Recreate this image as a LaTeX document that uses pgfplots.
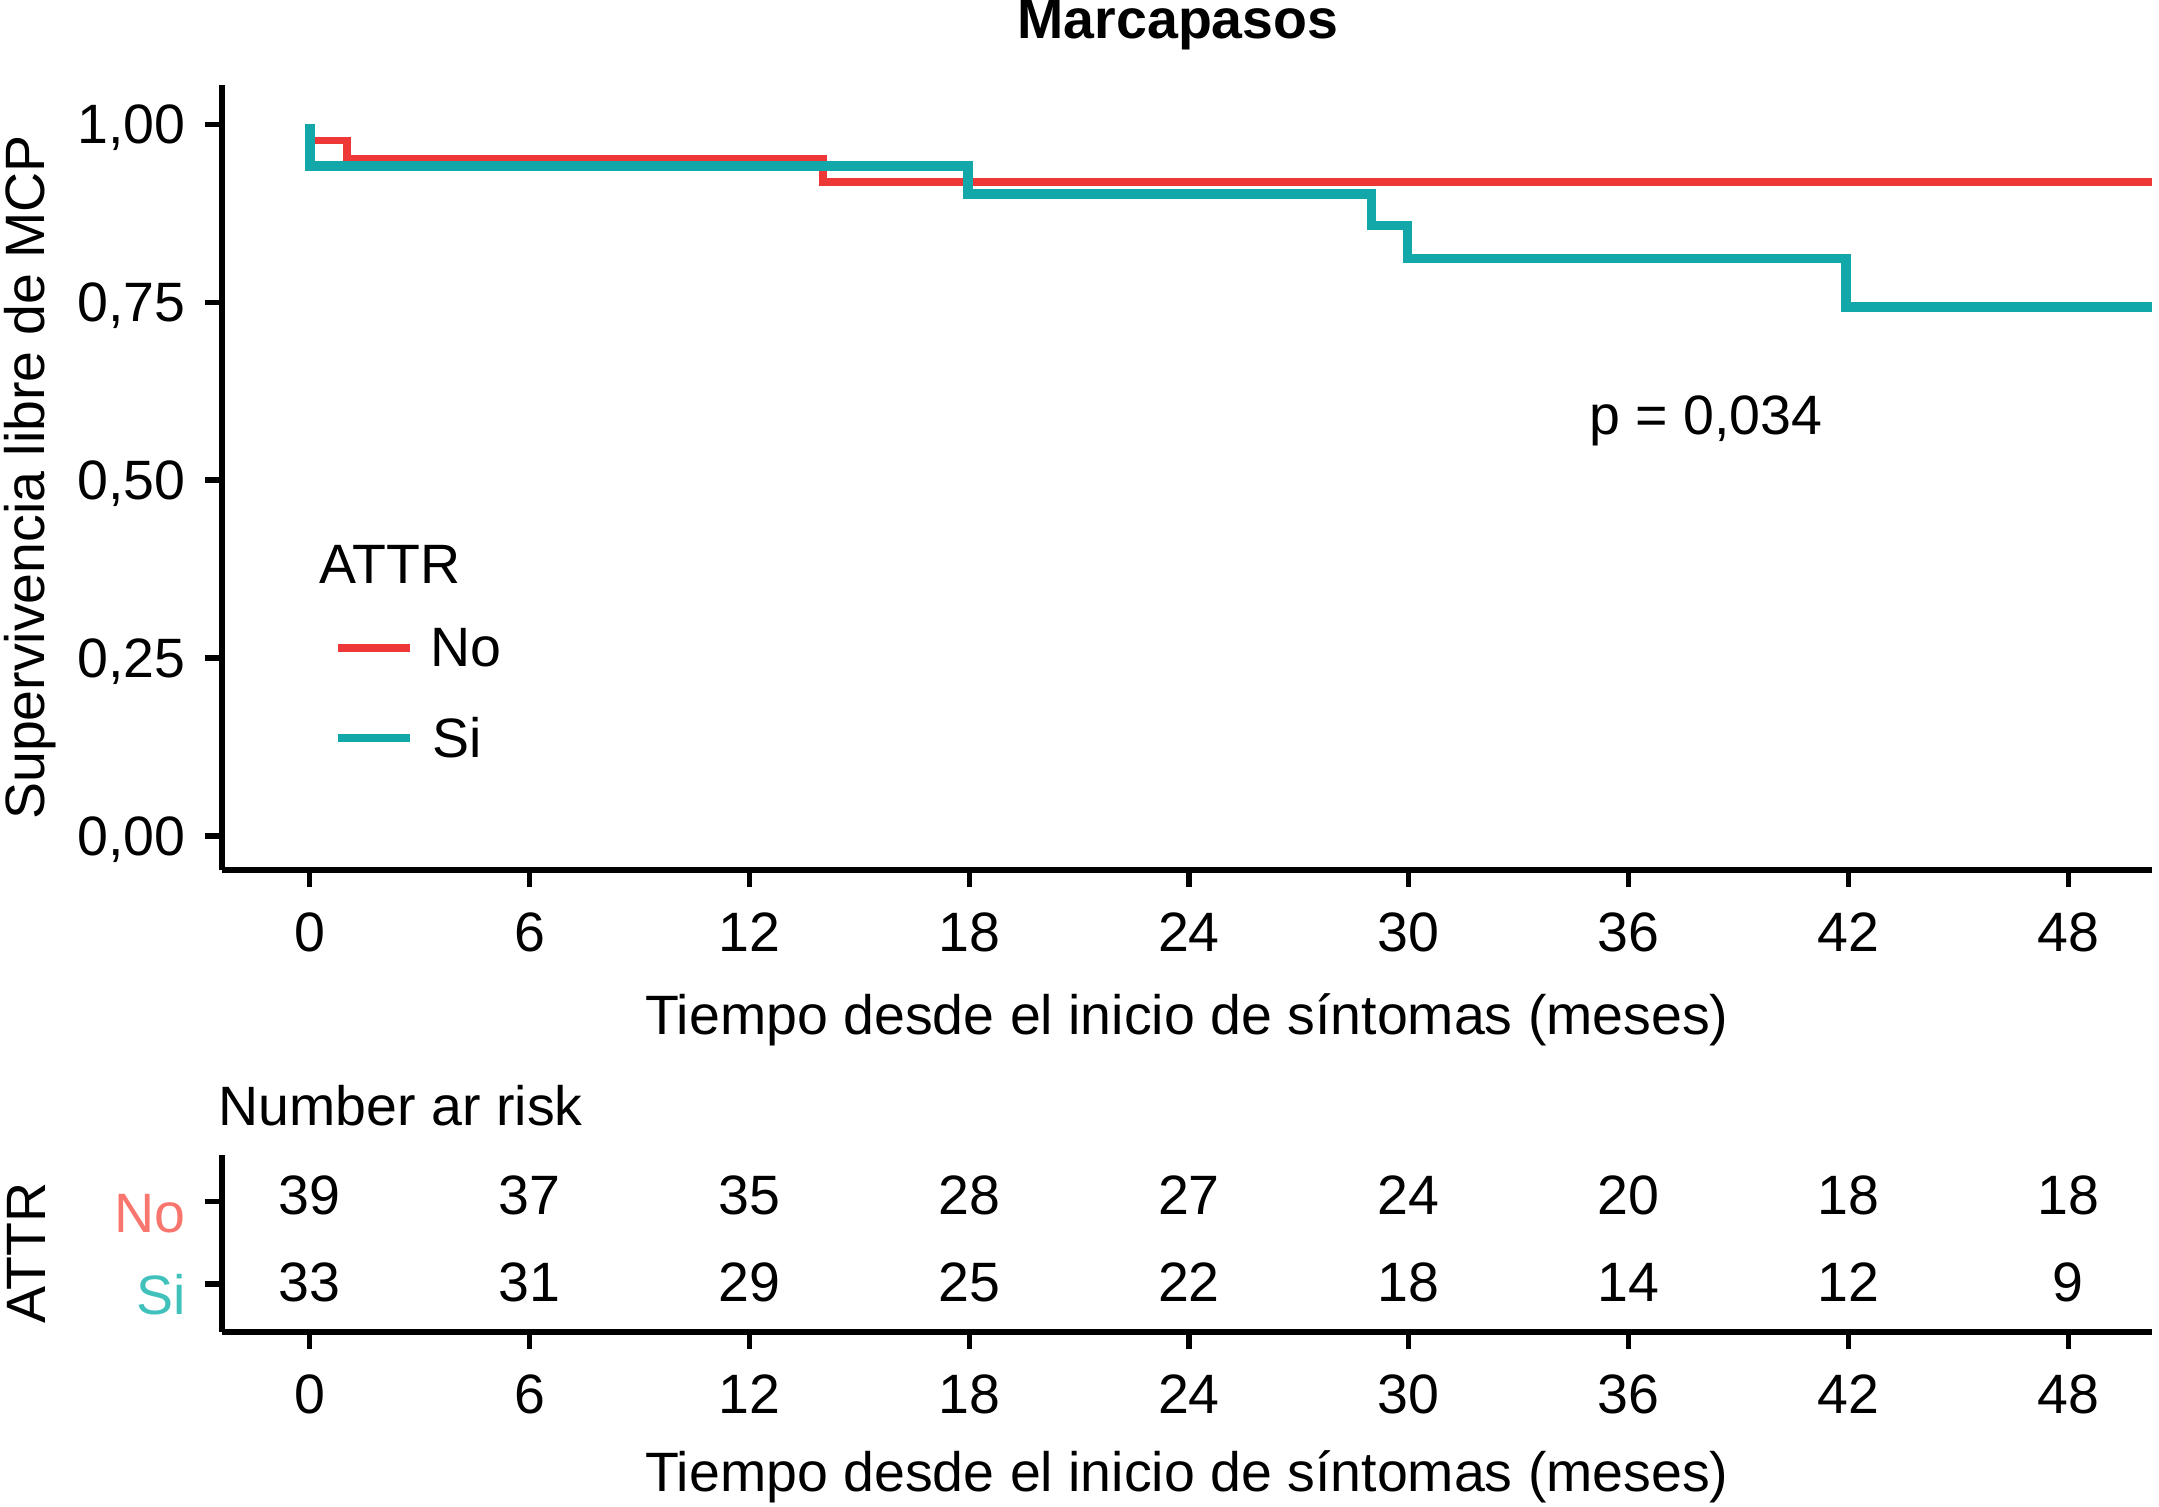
\documentclass[border=0pt]{standalone}
\usepackage{fontspec}
\setmainfont{Liberation Sans}
\usepackage{pgfplots}
\pgfplotsset{compat=1.18}
\definecolor{kmred}{RGB}{238,56,56}
\definecolor{kmteal}{RGB}{18,168,170}
\definecolor{lblred}{RGB}{248,118,109}
\definecolor{lblteal}{RGB}{64,193,188}
\newcommand\fs{\fontsize{11.56}{13.9}\selectfont}
\pgfplotsset{
  kmbase/.style={
    scale only axis, width=402.15pt,
    xmin=-2.405, xmax=50.29,
    axis x line*=bottom, axis y line*=left,
    axis line style={line width=1.2pt, black, -},
    tick style={line width=1.05pt, black},
    tick align=outside, major tick length=3.5pt,
    xtick={0,6,...,48},
    font=\fs, tick label style={font=\fs},
    /pgf/number format/assume math mode=true,
    xticklabel style={anchor=center, inner sep=0pt, text height=8.28pt, text depth=0pt, yshift=-9.4pt},
    yticklabel style={anchor=east, inner sep=0pt, text height=8.28pt, text depth=0pt, xshift=-3.8pt},
    xlabel={Tiempo desde el inicio de síntomas (meses)},
  }
}
\begin{document}
\begin{tikzpicture}[x=1pt,y=1pt]
\useasboundingbox (0,0) rectangle (449.79,-313.75);
% main survival plot
\begin{axis}[kmbase,
  at={(46.19pt,-181.25pt)}, anchor=south west, height=163.54pt,
  ymin=-0.0478, ymax=1.0548, ytick={0,0.25,0.5,0.75,1},
  yticklabel style={/pgf/number format/.cd, fixed, fixed zerofill, precision=2, use comma},
  ylabel={Supervivencia libre de MCP},
  ylabel style={at={(axis description cs:-0.099,0.5)}, anchor=center},
  xlabel style={at={(axis description cs:0.5,-0.1908)}, anchor=center},
  title={\bfseries Marcapasos},
  title style={at={(axis description cs:0.4954,1.0767)}, anchor=center, yshift=-6pt},
]
\addplot[kmred, line width=1.6pt, const plot mark left] coordinates {
  (0,0.977) (1.01,0.951) (14.0,0.919) (50.29,0.919)};
\addplot[kmteal, line width=2.0pt, const plot mark left] coordinates {
  (0,1.0) (0,0.941) (17.97,0.902) (28.98,0.8576) (29.97,0.811) (41.94,0.7426) (50.29,0.7426)};
% legend keys
\addplot[kmred, line width=1.7pt, forget plot] coordinates {(0.77,0.264) (2.735,0.264)};
\addplot[kmteal, line width=1.7pt, forget plot] coordinates {(0.77,0.1376) (2.735,0.1376)};
\node[anchor=base west, inner sep=0pt, font=\fs] at (axis cs:0.25,0.3553) {ATTR};
\node[anchor=base west, inner sep=0pt, font=\fs] at (axis cs:3.28,0.2374) {No};
\node[anchor=base west, inner sep=0pt, font=\fs] at (axis cs:3.33,0.1096) {Si};
\node[anchor=base west, inner sep=0pt, font=\fs] at (axis cs:34.9,0.5645) {p = 0,034};
\end{axis}
% number at risk table
\begin{axis}[kmbase,
  at={(46.19pt,-277.44pt)}, anchor=south west, height=36.81pt,
  ymin=0.42, ymax=2.567, ytick={1,2},
  yticklabels={\textcolor{lblteal}{Si},\textcolor{lblred}{No}},
  yticklabel style={yshift=-2.2pt},
  ylabel={ATTR},
  ylabel style={at={(axis description cs:-0.101,0.445)}, anchor=center},
  xlabel style={at={(axis description cs:0.5,-0.823)}, anchor=center},
  title={Number ar risk},
  title style={at={(axis description cs:-0.002,1.170)}, anchor=base west, inner sep=0pt, yshift=-6pt, font=\fs},
]
\addplot[draw=none, no markers, nodes near coords, point meta=explicit symbolic,
  nodes near coords style={anchor=center, inner sep=0pt, text height=8.28pt, text depth=0pt, font=\fs, black, yshift=1.4pt}]
  coordinates {(0,2)[39] (6,2)[37] (12,2)[35] (18,2)[28] (24,2)[27] (30,2)[24] (36,2)[20] (42,2)[18] (48,2)[18]};
\addplot[draw=none, no markers, nodes near coords, point meta=explicit symbolic,
  nodes near coords style={anchor=center, inner sep=0pt, text height=8.28pt, text depth=0pt, font=\fs, black, yshift=0.5pt}]
  coordinates {(0,1)[33] (6,1)[31] (12,1)[29] (18,1)[25] (24,1)[22] (30,1)[18] (36,1)[14] (42,1)[12] (48,1)[9]};
\end{axis}
\end{tikzpicture}
\end{document}
